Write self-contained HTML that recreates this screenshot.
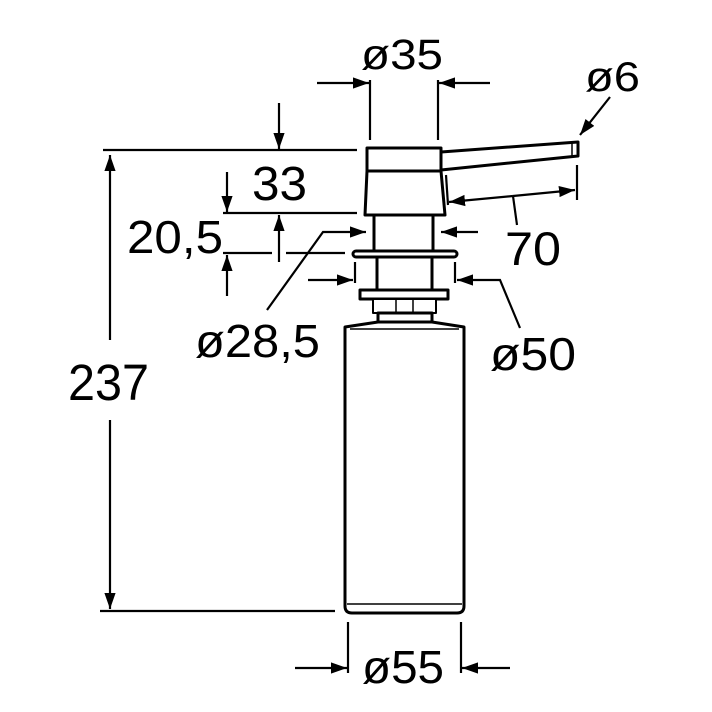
<!DOCTYPE html>
<html><head><meta charset="utf-8"><style>html,body{margin:0;padding:0;background:#fff}svg{display:block}</style></head>
<body>
<svg width="712" height="712" viewBox="0 0 712 712" xmlns="http://www.w3.org/2000/svg">
<defs>
<marker id="a" viewBox="0 0 10 10" refX="10" refY="5" markerWidth="16" markerHeight="16" markerUnits="userSpaceOnUse" orient="auto"><path d="M0,1.5 L10,5 L0,8.5 Z" fill="#000"/></marker>
</defs>
<g font-family="Liberation Sans, sans-serif" fill="#000">
<text x="361" y="69" font-size="43" textLength="82" lengthAdjust="spacingAndGlyphs">ø35</text>
<text x="585" y="91" font-size="42" textLength="55" lengthAdjust="spacingAndGlyphs">ø6</text>
<text x="252" y="200" font-size="48" textLength="55" lengthAdjust="spacingAndGlyphs">33</text>
<text x="127" y="253" font-size="46" textLength="96" lengthAdjust="spacingAndGlyphs">20,5</text>
<text x="505" y="265" font-size="47" textLength="56" lengthAdjust="spacingAndGlyphs">70</text>
<text x="195" y="357" font-size="46" textLength="125" lengthAdjust="spacingAndGlyphs">ø28,5</text>
<text x="490" y="370" font-size="46" textLength="86" lengthAdjust="spacingAndGlyphs">ø50</text>
<text x="68" y="400" font-size="51" textLength="81" lengthAdjust="spacingAndGlyphs">237</text>
<text x="362" y="683" font-size="46" textLength="82" lengthAdjust="spacingAndGlyphs">ø55</text>
</g>
<g stroke="#000" stroke-width="2.2" fill="none">
<line x1="103" y1="150" x2="357" y2="150"/>
<line x1="100" y1="611" x2="335" y2="611"/>
<line x1="110" y1="340" x2="110" y2="155" marker-end="url(#a)"/>
<line x1="110" y1="420" x2="110" y2="609" marker-end="url(#a)"/>
<line x1="279" y1="103" x2="279" y2="149" marker-end="url(#a)"/>
<line x1="227" y1="172" x2="227" y2="212" marker-end="url(#a)"/>
<line x1="223" y1="213" x2="357" y2="213"/>
<line x1="223" y1="253" x2="272" y2="253"/>
<line x1="286" y1="253" x2="345" y2="253"/>
<line x1="279" y1="262" x2="279" y2="215" marker-end="url(#a)"/>
<line x1="227" y1="296" x2="227" y2="255" marker-end="url(#a)"/>
<line x1="370" y1="80" x2="370" y2="140"/>
<line x1="438" y1="80" x2="438" y2="140"/>
<line x1="317" y1="83" x2="369" y2="83" marker-end="url(#a)"/>
<line x1="490" y1="83" x2="439" y2="83" marker-end="url(#a)"/>
<line x1="610" y1="97" x2="580" y2="135" marker-end="url(#a)"/>
<line x1="577" y1="165" x2="577" y2="200"/>
<line x1="446" y1="175" x2="448" y2="205"/>
<line x1="513" y1="196" x2="449" y2="202" marker-end="url(#a)"/>
<line x1="513" y1="196" x2="575" y2="190" marker-end="url(#a)"/>
<line x1="513" y1="196" x2="517" y2="225"/>
<polyline points="267,310 323,232 366,232" marker-end="url(#a)"/>
<line x1="478" y1="232" x2="441" y2="232" marker-end="url(#a)"/>
<line x1="355" y1="262" x2="355" y2="283"/>
<line x1="455" y1="262" x2="455" y2="283"/>
<line x1="308" y1="280" x2="353" y2="280" marker-end="url(#a)"/>
<polyline points="520,328 500,280 457,280" marker-end="url(#a)"/>
<line x1="348" y1="622" x2="348" y2="673"/>
<line x1="461" y1="622" x2="461" y2="673"/>
<line x1="295" y1="668" x2="347" y2="668" marker-end="url(#a)"/>
<line x1="510" y1="668" x2="462" y2="668" marker-end="url(#a)"/>
</g>
<g stroke="#000" stroke-width="3" fill="#fff" stroke-linejoin="round">
<path d="M441,152 L578,142 L578,156 L441,170 Z"/>
<line x1="572" y1="143" x2="572" y2="157" stroke-width="1.5"/>
<path d="M367,148 L441,148 L441,171 L445,215 L365,215 L367,171 Z"/>
<line x1="367" y1="171" x2="441" y2="171"/>
<rect x="374" y="215" width="59" height="37"/>
<rect x="353" y="251" width="104" height="6" rx="3"/>
<rect x="377" y="257" width="55" height="33"/>
<rect x="360" y="290" width="88" height="9"/>
<rect x="373" y="299" width="63" height="14" stroke-width="2"/>
<line x1="396" y1="299" x2="396" y2="313" stroke-width="1.5"/>
<line x1="413" y1="299" x2="413" y2="313" stroke-width="1.5"/>
<rect x="378" y="313" width="54" height="9"/>
<path d="M378,322 L345,327 L345,606 Q345,613 352,613 L457,613 Q464,613 464,606 L464,327 L432,322 Z"/>
<line x1="347" y1="604" x2="462" y2="604" stroke-width="1.5"/>
<line x1="350" y1="329" x2="459" y2="329" stroke-width="1.5"/>
</g>
</svg>
</body></html>
